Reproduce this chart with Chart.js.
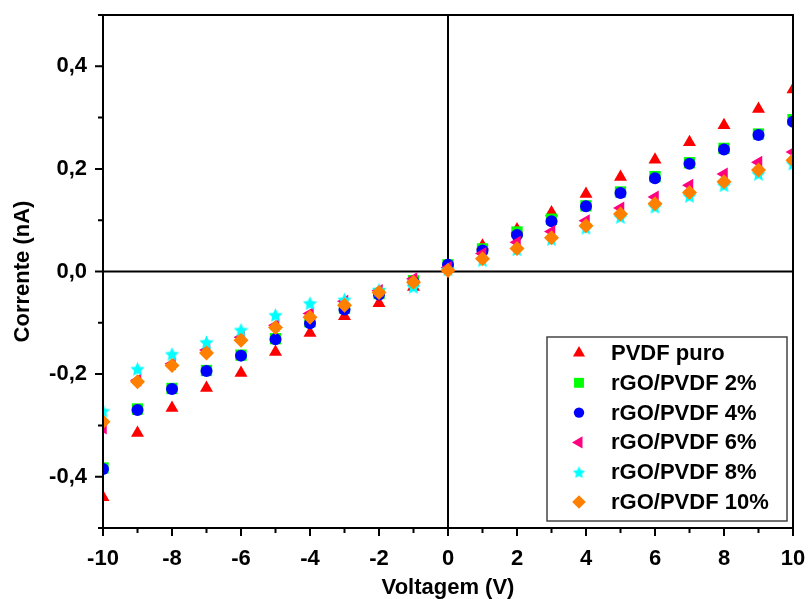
<!DOCTYPE html>
<html>
<head>
<meta charset="utf-8">
<script src="https://cdn.jsdelivr.net/npm/chart.js@4/dist/chart.umd.min.js"></script>
<style>
  html, body { margin: 0; padding: 0; background: #fff; }
  #wrap { width: 808px; height: 599px; position: relative; }
</style>
</head>
<body>
<div id="wrap"><canvas id="c"></canvas></div>
<script>
// I-V curves: current (nA) against applied voltage (V)
const voltage = [-10, -9, -8, -7, -6, -5, -4, -3, -2, -1, 0, 1, 2, 3, 4, 5, 6, 7, 8, 9, 10];

const pvdfPuro = [-0.440, -0.315, -0.266, -0.227, -0.198, -0.157, -0.120, -0.087, -0.062, -0.030, 0.010,
                  0.050, 0.082, 0.115, 0.151, 0.184, 0.218, 0.252, 0.285, 0.317, 0.355];
const rgo2 = [-0.383, -0.268, -0.228, -0.193, -0.163, -0.131, -0.098, -0.072, -0.043, -0.018, 0.013,
              0.044, 0.077, 0.102, 0.128, 0.155, 0.185, 0.212, 0.240, 0.268, 0.296];
const rgo4 = [-0.385, -0.270, -0.229, -0.194, -0.164, -0.132, -0.101, -0.074, -0.045, -0.020, 0.013,
              0.041, 0.071, 0.098, 0.127, 0.153, 0.182, 0.210, 0.238, 0.266, 0.292];
const rgo6 = [-0.305, -0.212, -0.180, -0.153, -0.128, -0.105, -0.082, -0.058, -0.037, -0.014, 0.008,
              0.035, 0.057, 0.078, 0.099, 0.124, 0.145, 0.168, 0.190, 0.213, 0.233];
const rgo8 = [-0.272, -0.190, -0.161, -0.138, -0.114, -0.085, -0.062, -0.055, -0.036, -0.030, 0.004,
              0.022, 0.043, 0.063, 0.085, 0.106, 0.126, 0.147, 0.168, 0.190, 0.210];
const rgo10 = [-0.293, -0.215, -0.183, -0.159, -0.134, -0.109, -0.089, -0.066, -0.041, -0.021, 0.002,
               0.025, 0.045, 0.066, 0.089, 0.112, 0.132, 0.154, 0.175, 0.198, 0.217];

const seriesNames = ['PVDF puro', 'rGO/PVDF 2%', 'rGO/PVDF 4%', 'rGO/PVDF 6%', 'rGO/PVDF 8%', 'rGO/PVDF 10%'];

const xMajorTicks = [-10, -8, -6, -4, -2, 0, 2, 4, 6, 8, 10];
const xMinorTicks = [-9, -7, -5, -3, -1, 1, 3, 5, 7, 9];
const yMajorTicks = [-0.4, -0.2, 0, 0.2, 0.4];
const yMinorTicks = [-0.5, -0.3, -0.1, 0.1, 0.3, 0.5];

const FONT = '"Liberation Sans", Arial, Helvetica, sans-serif';

// filled five-pointed star used as a point style
function makeStar(size, color) {
  const c = document.createElement('canvas');
  c.width = c.height = size;
  const g = c.getContext('2d');
  g.fillStyle = color;
  g.beginPath();
  const cx = size / 2, cy = size / 2 + size * 0.04, R = size / 2, r = R * 0.48;
  for (let i = 0; i < 10; i++) {
    const a = -Math.PI / 2 + i * Math.PI / 5;
    const rr = i % 2 ? r : R;
    g.lineTo(cx + rr * Math.cos(a), cy + rr * Math.sin(a));
  }
  g.closePath();
  g.fill();
  return c;
}

const styles = [
  { color: '#ff0000', pointStyle: 'triangle', radius: 7.5, rotation: 0,   legendRadius: 7 },
  { color: '#00ff00', pointStyle: 'rect',     radius: 8,   rotation: 0,   legendRadius: 7 },
  { color: '#0000ff', pointStyle: 'circle',   radius: 6,   rotation: 0,   legendRadius: 5.2 },
  { color: '#ff0080', pointStyle: 'triangle', radius: 7.5, rotation: -90, legendRadius: 7 },
  { color: '#00ffff', pointStyle: makeStar(15, '#00ffff'), radius: 7.5, rotation: 0,
    legendStyle: makeStar(13, '#00ffff'), legendRadius: 6.5 },
  { color: '#ff8000', pointStyle: 'rectRot',  radius: 7.5, rotation: 0,   legendRadius: 6.8 }
];

const seriesValues = [pvdfPuro, rgo2, rgo4, rgo6, rgo8, rgo10];

const datasets = seriesValues.map((vals, k) => ({
  label: seriesNames[k],
  data: voltage.map((v, i) => ({ x: v, y: vals[i] })),
  backgroundColor: styles[k].color,
  borderColor: styles[k].color,
  borderWidth: 0,
  pointStyle: styles[k].pointStyle,
  pointRadius: styles[k].radius,
  pointRotation: styles[k].rotation,
  showLine: false,
  clip: 0,
  order: 6 - k
}));

// zero lines through the origin, beneath the markers
const zeroLines = {
  id: 'zeroLines',
  beforeDatasetsDraw(chart) {
    const { ctx, chartArea: a, scales: { x, y } } = chart;
    const x0 = x.getPixelForValue(0), y0 = y.getPixelForValue(0);
    ctx.save();
    ctx.strokeStyle = '#000';
    ctx.lineWidth = 2;
    ctx.beginPath();
    ctx.moveTo(x0, a.top); ctx.lineTo(x0, a.bottom);
    ctx.moveTo(a.left, y0); ctx.lineTo(a.right, y0);
    ctx.stroke();
    ctx.restore();
  }
};

// plot frame with outward major/minor tick marks
const frameTicks = {
  id: 'frameTicks',
  afterDatasetsDraw(chart) {
    const { ctx, chartArea: a, scales: { x, y } } = chart;
    ctx.save();
    ctx.strokeStyle = '#000';
    ctx.lineWidth = 2;
    ctx.strokeRect(a.left, a.top, a.right - a.left, a.bottom - a.top);
    ctx.beginPath();
    xMajorTicks.forEach(v => { const p = x.getPixelForValue(v); ctx.moveTo(p, a.bottom); ctx.lineTo(p, a.bottom + 8); });
    xMinorTicks.forEach(v => { const p = x.getPixelForValue(v); ctx.moveTo(p, a.bottom); ctx.lineTo(p, a.bottom + 5); });
    yMajorTicks.forEach(v => { const p = y.getPixelForValue(v); ctx.moveTo(a.left, p); ctx.lineTo(a.left - 8, p); });
    yMinorTicks.forEach(v => { const p = y.getPixelForValue(v); ctx.moveTo(a.left, p); ctx.lineTo(a.left - 5, p); });
    ctx.stroke();
    ctx.restore();
  }
};

// boxed legend in the lower right of the plot
const boxLegend = {
  id: 'boxLegend',
  afterDraw(chart) {
    const { ctx, chartArea: a } = chart;
    const right = a.right - 6, bottom = a.bottom - 7;
    const left = right - 240, top = bottom - 184;
    ctx.save();
    ctx.fillStyle = '#fff';
    ctx.fillRect(left, top, right - left, bottom - top);
    ctx.strokeStyle = '#444';
    ctx.lineWidth = 1.5;
    ctx.strokeRect(left, top, right - left, bottom - top);
    const drawPoint = Chart.helpers && Chart.helpers.drawPoint;
    ctx.font = 'bold 22px ' + FONT;
    ctx.textBaseline = 'middle';
    ctx.textAlign = 'left';
    seriesNames.forEach((name, k) => {
      const cy = top + 16 + k * 29.8;
      const cx = left + 32;
      const s = styles[k];
      ctx.fillStyle = s.color;
      ctx.strokeStyle = s.color;
      if (drawPoint) {
        drawPoint(ctx, { pointStyle: s.legendStyle || s.pointStyle, radius: s.legendRadius,
                         rotation: s.rotation, borderWidth: 0 }, cx, cy);
      } else {
        ctx.beginPath(); ctx.arc(cx, cy, s.legendRadius, 0, Math.PI * 2); ctx.fill();
      }
      ctx.fillStyle = '#000';
      ctx.fillText(name, left + 64, cy + 1);
    });
    ctx.restore();
  }
};

new Chart(document.getElementById('c'), {
  type: 'scatter',
  data: { datasets },
  plugins: [zeroLines, frameTicks, boxLegend],
  options: {
    responsive: true,
    maintainAspectRatio: false,
    animation: false,
    devicePixelRatio: 1,
    layout: { padding: { top: 15, right: 15, left: 0, bottom: 0 } },
    plugins: { legend: { display: false }, tooltip: { enabled: false } },
    scales: {
      x: {
        type: 'linear',
        min: -10, max: 10,
        grid: { display: false, drawTicks: false },
        border: { display: false },
        afterBuildTicks: s => { s.ticks = xMajorTicks.map(v => ({ value: v })); },
        afterFit: s => { s.height = 71; s.paddingLeft = 0; s.paddingRight = 0; },
        ticks: {
          padding: 18,
          color: '#000',
          font: { family: FONT, size: 22, weight: 'bold' },
          callback: v => String(v)
        },
        title: {
          display: true,
          text: 'Voltagem (V)',
          color: '#000',
          padding: 0,
          font: { family: FONT, size: 22, weight: 'bold', lineHeight: 1 }
        }
      },
      y: {
        type: 'linear',
        min: -0.5, max: 0.5,
        grid: { display: false, drawTicks: false },
        border: { display: false },
        afterBuildTicks: s => { s.ticks = yMajorTicks.map(v => ({ value: v })); },
        afterFit: s => { s.width = 103; s.paddingTop = 0; s.paddingBottom = 0; },
        ticks: {
          padding: 16,
          color: '#000',
          font: { family: FONT, size: 22, weight: 'bold' },
          callback: v => v.toFixed(1).replace('.', ',')
        },
        title: {
          display: true,
          text: 'Corrente (nA)',
          color: '#000',
          padding: { top: 10, bottom: 0 },
          font: { family: FONT, size: 22, weight: 'bold', lineHeight: 1.2 }
        }
      }
    }
  }
});
</script>
</body>
</html>
